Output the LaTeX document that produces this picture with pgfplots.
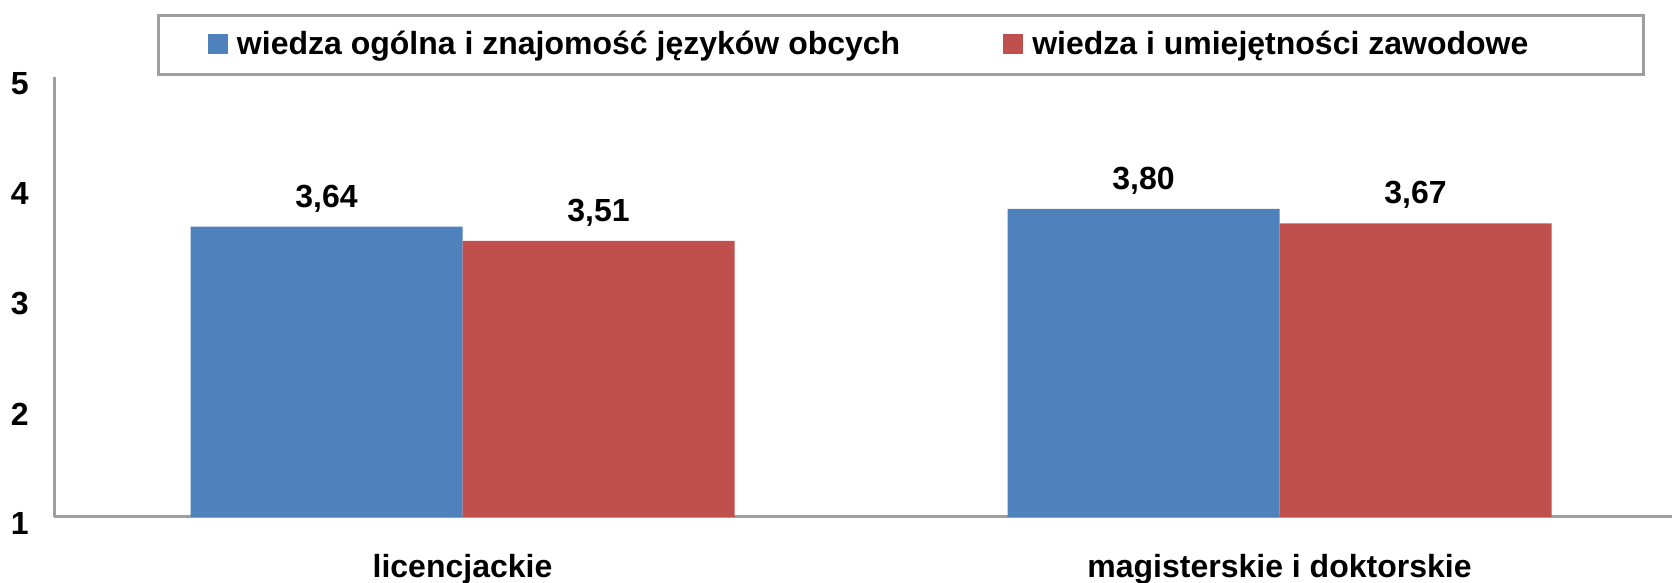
\documentclass[border=0pt]{standalone}
\usepackage{fontspec}
\setmainfont{Liberation Sans}
\usepackage{pgfplots}
\pgfplotsset{compat=1.18}
\definecolor{cblue}{HTML}{4F81BD}
\definecolor{cred}{HTML}{C0504D}
\definecolor{cline}{HTML}{9E9E9E}
\pgfplotsset{mylegend/.style={legend image code/.code={\fill[##1] (0bp,0bp) rectangle (10bp,10bp);}}}
\newcommand{\cfont}{\fontsize{16bp}{19bp}\selectfont\bfseries}
\begin{document}
\begin{tikzpicture}[font=\cfont]
\begin{axis}[
  name=ax,
  scale only axis,
  width=809bp, height=220bp,
  ybar=0pt, bar width=136bp,
  xmin=-0.5, xmax=1.4804,
  ymin=1, ymax=5,
  ytick={1,2,3,4,5},
  xtick={0,1},
  xticklabels={licencjackie, magisterskie i doktorskie},
  axis x line*=bottom, axis y line*=left,
  axis line style={draw=cline, line width=1.5bp},
  major tick length=0pt,
  /pgf/number format/assume math mode=true,
  tick label style={font=\cfont},
  yticklabel style={anchor=east, inner sep=0pt, xshift=-12.5bp, yshift=-3.5bp},
  xticklabel style={anchor=base, inner sep=0pt, yshift=-30.5bp},
  nodes near coords={\pgfmathprintnumber[fixed,fixed zerofill,precision=2,use comma,assume math mode=true]{\pgfplotspointmeta}},
  nodes near coords style={font=\cfont, inner sep=0pt, text depth=0pt, yshift=9.5bp},
  legend columns=2,
  legend style={
    at={(axis description cs:0.06397,1.14205)}, anchor=north west,
    draw=cline, line width=1.5bp,
    inner xsep=24.5bp, inner ysep=4bp,
    font=\cfont,
    nodes={inner sep=0pt, text height=15.25bp, text depth=6.25bp},
    cells={anchor=base west},
    /tikz/every odd column/.append style={column sep=4.5bp},
    /tikz/every even column/.append style={column sep=51.5bp},
  },
]
\addplot[fill=cblue, draw=none, mylegend] coordinates {(0,3.64) (1,3.80)};
\addplot[fill=cred, draw=none, mylegend] coordinates {(0,3.51) (1,3.67)};
\legend{wiedza ogólna i znajomość języków obcych, wiedza i umiejętności zawodowe\hspace*{33bp}}
\end{axis}
\pgfresetboundingbox
\path[use as bounding box] ([xshift=-27bp,yshift=-33bp]ax.south west) rectangle ([yshift=38.5bp]ax.north east);
\end{tikzpicture}
\end{document}
